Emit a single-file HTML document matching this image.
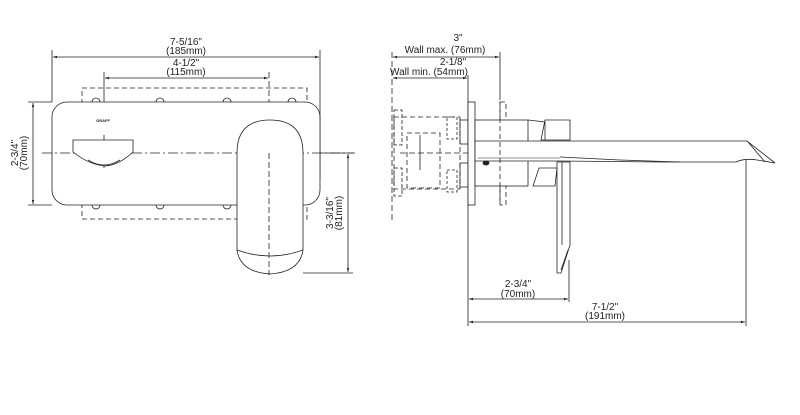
<!DOCTYPE html>
<html><head><style>
html,body{margin:0;padding:0;background:#fff;}
svg{display:block;}
text{font-family:"Liberation Sans",sans-serif;font-size:10px;fill:#222;}
</style></head><body>
<svg width="800" height="415" viewBox="0 0 800 415" xmlns="http://www.w3.org/2000/svg">
<defs>
<marker id="a" viewBox="0 0 10 10" refX="10" refY="5" markerWidth="7" markerHeight="5" orient="auto-start-reverse"><path d="M0,2 L10,5 L0,8z" fill="#222"/></marker>
</defs>
<g stroke="#222" stroke-width="0.8" fill="none">
<!-- LEFT VIEW -->
<line x1="52" y1="50" x2="52" y2="102"/>
<line x1="320" y1="50" x2="320" y2="178"/>
<line x1="53" y1="57" x2="319" y2="57" marker-start="url(#a)" marker-end="url(#a)"/>
<line x1="104" y1="72" x2="104" y2="168"/>
<line x1="269" y1="72" x2="269" y2="275" stroke-dasharray="6,3"/>
<line x1="105" y1="78" x2="268" y2="78" marker-start="url(#a)" marker-end="url(#a)"/>
<rect x="82" y="88" width="225" height="131" stroke-dasharray="5,3"/>
<path d="M92,205 a4,4 0 0 0 8,0 M156,205 a4,4 0 0 0 8,0 M223,205 a4,4 0 0 0 8,0"/>
<rect x="52" y="102" width="268" height="103" rx="15" fill="#fff"/>
<path d="M92,102 a4,4 0 0 1 8,0 M156,102 a4,4 0 0 1 8,0 M223,102 a4,4 0 0 1 8,0 M288,102 a4,4 0 0 1 8,0"/>
<line x1="42" y1="153" x2="355" y2="153" stroke-dasharray="10,3,2,3"/>
<line x1="104" y1="135" x2="104" y2="170" stroke-dasharray="6,3"/>
<path d="M73,140 L133,140 L133,152 Q118,166 104,166 Q88,164 73,152 Z" fill="#fff"/>
<path d="M88,160 Q104,170 120,160"/>
<path d="M237,153 L237,250 Q240,272 270,274 Q300,272 303,250 L303,153 Q303,120 270,120 Q237,120 237,153 Z" fill="#fff"/>
<path d="M237,250 Q270,262 303,250"/>
<line x1="28" y1="102" x2="52" y2="102"/>
<line x1="28" y1="205" x2="52" y2="205"/>
<line x1="33" y1="103" x2="33" y2="204" marker-start="url(#a)" marker-end="url(#a)"/>
<line x1="303" y1="273" x2="353" y2="273"/>
<line x1="320" y1="153" x2="353" y2="153"/>
<line x1="348" y1="154" x2="348" y2="272" marker-start="url(#a)" marker-end="url(#a)"/>
<line x1="269" y1="153" x2="269" y2="275" stroke-dasharray="6,3"/>

<!-- RIGHT VIEW -->
<line x1="392" y1="52" x2="392" y2="220" stroke-dasharray="6,3"/>
<line x1="393" y1="57" x2="499" y2="57" marker-start="url(#a)" marker-end="url(#a)"/>
<line x1="500" y1="52" x2="500" y2="100"/>
<line x1="393" y1="78" x2="467" y2="78" marker-start="url(#a)" marker-end="url(#a)"/>
<line x1="468" y1="75" x2="468" y2="326"/>
<rect x="500" y="102" width="6" height="103" stroke-dasharray="5,3"/>
<rect x="394" y="117" width="66" height="72" stroke-dasharray="5,3"/>
<rect x="407" y="133" width="33" height="55" stroke-dasharray="5,3"/>
<rect x="394" y="110" width="8" height="35" stroke-dasharray="4,2"/>
<rect x="394" y="168" width="8" height="28" stroke-dasharray="4,2"/>
<rect x="447" y="117" width="10" height="22" stroke-dasharray="3,2"/>
<rect x="447" y="170" width="10" height="22" stroke-dasharray="3,2"/>
<line x1="400" y1="153" x2="468" y2="153" stroke-dasharray="6,3"/>
<line x1="420" y1="135" x2="420" y2="170"/>
<rect x="460" y="120" width="8" height="24" />
<rect x="460" y="163" width="8" height="24" />
<rect x="468" y="102" width="7" height="103" fill="#fff"/>
<rect x="475" y="120" width="53" height="66" fill="#fff"/>
<path d="M528,120 L545,122 L545,140 M545,120 L548,120 L570,120 L570,140 L541,140 Z" fill="#fff"/>
<path d="M533,186 L539,168 L557,168 L555,186 Z" fill="#fff"/>
<path d="M475,141 L747,141 L775,163 L757,160 Q745,158 736,162 L660,162 L560,161 L475,161 Z" fill="#fff"/>
<line x1="478" y1="158" x2="560" y2="158" stroke-width="0.6"/>
<path d="M560,157 L620,160 L680,162"/>
<path d="M748,142 L765,162"/>
<path d="M557,162 L557,273 L561,273 L570,245 L570,162 Z" fill="#fff"/>
<line x1="562" y1="162" x2="562" y2="245"/>
<path d="M561,270 L568,250"/>
<ellipse cx="486" cy="163" rx="3" ry="2" fill="#222"/>
<line x1="500" y1="102" x2="500" y2="205" stroke-dasharray="5,3"/>
<line x1="569" y1="260" x2="569" y2="302"/>
<line x1="469" y1="299" x2="568" y2="299" marker-start="url(#a)" marker-end="url(#a)"/>
<line x1="746" y1="160" x2="746" y2="326"/>
<line x1="469" y1="322" x2="745" y2="322" marker-start="url(#a)" marker-end="url(#a)"/>
</g>
<g text-anchor="middle">
<text x="186" y="45">7-5/16"</text>
<text x="186" y="54">(185mm)</text>
<text x="186" y="66">4-1/2"</text>
<text x="186" y="75">(115mm)</text>
<text transform="translate(18,153) rotate(-90)">2-3/4"</text>
<text transform="translate(27,153) rotate(-90)">(70mm)</text>
<text transform="translate(333,213) rotate(-90)">3-3/16"</text>
<text transform="translate(342,213) rotate(-90)">(81mm)</text>
<text x="458" y="41">3"</text>
<text x="445" y="53">Wall max. (76mm)</text>
<text x="453" y="65">2-1/8"</text>
<text x="429" y="75">Wall min. (54mm)</text>
<text x="518" y="287">2-3/4"</text>
<text x="518" y="297">(70mm)</text>
<text x="605" y="310">7-1/2"</text>
<text x="605" y="319">(191mm)</text>
<text x="103" y="122" style="font-size:4px;font-weight:bold">GRAFF</text>
</g>
</svg>
</body></html>
